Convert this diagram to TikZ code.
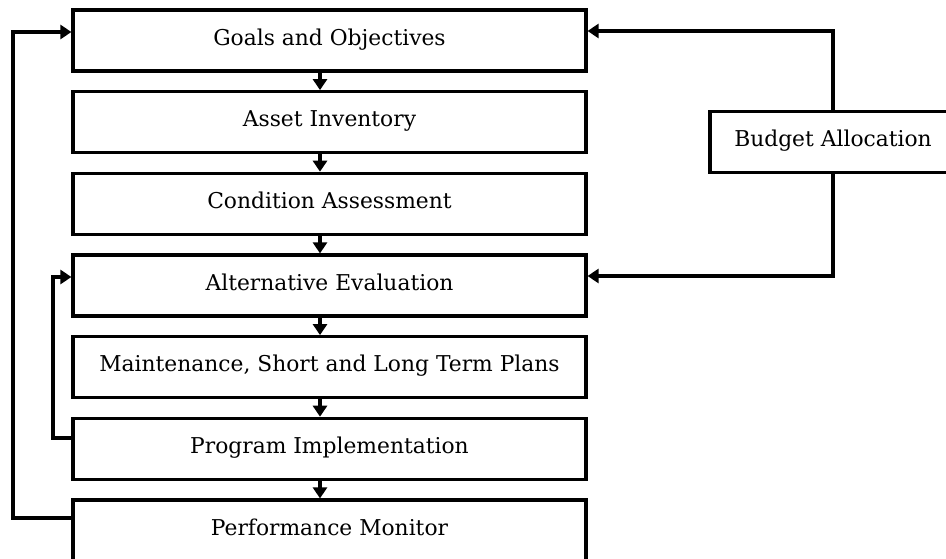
\documentclass[tikz,border=0pt]{standalone}
\usepackage{fontspec}
\setmainfont{DejaVu Serif}
\usetikzlibrary{arrows.meta}
\begin{document}
\begin{tikzpicture}[x=1pt,y=-1pt,
  box/.style={draw=black,line width=3.2pt,fill=white,minimum width=513pt,minimum height=61pt,
    inner sep=0pt,text height=16pt,text depth=6.5pt,font=\fontsize{21.8}{26}\selectfont},
  bbox/.style={box,minimum width=246pt},
  conn/.style={line width=3.2pt,-{Triangle[length=11pt,width=14pt]}},
  feed/.style={conn}]
\clip (0,0) rectangle (946,559);
\fill[white] (0,0) rectangle (946,559);
\node[box] (g) at (329.5,40.5) {Goals and Objectives};
\node[box] (a) at (329.5,122.2) {Asset Inventory};
\node[box] (c) at (329.5,203.8) {Condition Assessment};
\node[box] (e) at (329.5,285.5) {Alternative Evaluation};
\node[box] (m) at (329.5,367.2) {Maintenance, Short and Long Term Plans};
\node[box] (p) at (329.5,448.8) {Program Implementation};
\node[box] (f) at (329.5,530.5) {Performance Monitor};
\node[bbox] (b) at (833,142) {Budget Allocation};
\draw[conn] ([xshift=-9.5pt]g.south) -- ([xshift=-9.5pt]a.north);
\draw[conn] ([xshift=-9.5pt]a.south) -- ([xshift=-9.5pt]c.north);
\draw[conn] ([xshift=-9.5pt]c.south) -- ([xshift=-9.5pt]e.north);
\draw[conn] ([xshift=-9.5pt]e.south) -- ([xshift=-9.5pt]m.north);
\draw[conn] ([xshift=-9.5pt]m.south) -- ([xshift=-9.5pt]p.north);
\draw[conn] ([xshift=-9.5pt]p.south) -- ([xshift=-9.5pt]f.north);
\coordinate (o1) at (13,518);
\coordinate (o2) at (13,32);
\coordinate (i1) at (53,438);
\coordinate (i2) at (53,277);
\coordinate (r1) at (833,31);
\coordinate (r2) at (833,276);
\draw[feed] (f.west |- o1) -- (o1) -- (o2) -- (g.west |- o2);
\draw[feed] (p.west |- i1) -- (i1) -- (i2) -- (e.west |- i2);
\draw[feed] (b.north -| r1) -- (r1) -- (g.east |- r1);
\draw[feed] (b.south -| r2) -- (r2) -- (e.east |- r2);
\end{tikzpicture}
\end{document}
